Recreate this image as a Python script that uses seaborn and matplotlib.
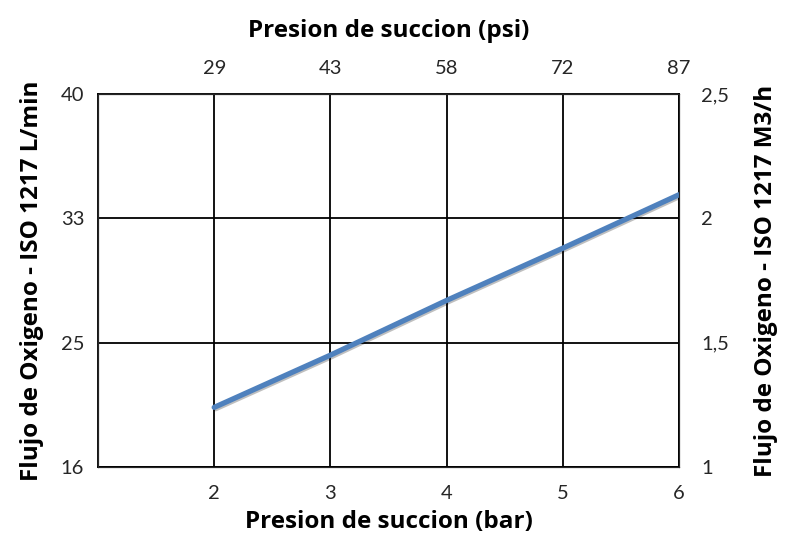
import matplotlib
matplotlib.use("Agg")
import matplotlib.pyplot as plt
import matplotlib.patheffects as pe
import seaborn as sns
import pandas as pd

# Datos
presionBar = [2, 3, 4, 5, 6]
flujoM3h = [1.24, 1.45, 1.67, 1.88, 2.095]

ticksBar = [2, 3, 4, 5, 6]
etiquetasPsi = ["29", "43", "58", "72", "87"]
ticksFlujo = [1, 1.5, 2, 2.5]
etiquetasLmin = ["16", "25", "33", "40"]
etiquetasM3h = ["1", "1,5", "2", "2,5"]

df = pd.DataFrame({"bar": presionBar, "m3h": flujoM3h})

sns.set_style("white")
plt.rcParams['font.family'] = ['Lato', 'DejaVu Sans']

fig = plt.figure(figsize=(7.93, 5.35), dpi=100)
ax = fig.add_axes([0.1236, 0.127, 0.7326, 0.6973])

sns.lineplot(data=df, x="bar", y="m3h", ax=ax, color="#4F81BD", linewidth=3.8,
             path_effects=[pe.SimpleLineShadow(offset=(1, -1), alpha=0.25), pe.Normal()],
             zorder=5)

ax.set_xlim(1, 6)
ax.set_ylim(1, 2.5)
ax.set_xticks(ticksBar)
ax.set_xticklabels([str(t) for t in ticksBar])
ax.set_yticks(ticksFlujo)
ax.set_yticklabels(etiquetasLmin)
ax.grid(True, color="black", linewidth=1.3)
for s in ax.spines.values():
    s.set_color("black")
    s.set_linewidth(1.3)
ax.tick_params(axis="x", length=0, pad=13, labelsize=14.5, colors="#262626")
ax.tick_params(axis="y", length=0, pad=10, labelsize=14.5, colors="#262626")

fuenteTitulo = dict(fontsize=17.5, fontweight="bold", color="black",
                    family=["Open Sans", "DejaVu Sans"])
ax.set_xlabel("Presion de succion (bar)", labelpad=6, **fuenteTitulo)
ax.set_ylabel("Flujo de Oxigeno - ISO 1217 L/min", labelpad=12, **fuenteTitulo)

# eje derecho en M3/h
axR = ax.twinx()
axR.set_ylim(ax.get_ylim())
axR.set_yticks(ticksFlujo)
axR.set_yticklabels(etiquetasM3h)
axR.tick_params(axis="y", length=0, pad=16, labelsize=14.5, colors="#262626")
axR.set_ylabel("Flujo de Oxigeno - ISO 1217 M3/h", labelpad=18, **fuenteTitulo)
axR.grid(False)

# eje superior en psi
axT = ax.twiny()
axT.set_xlim(ax.get_xlim())
axT.set_xticks(ticksBar)
axT.set_xticklabels(etiquetasPsi)
axT.tick_params(axis="x", length=0, pad=12, labelsize=14.5, colors="#262626")
axT.set_xlabel("Presion de succion (psi)", labelpad=17, **fuenteTitulo)
axT.grid(False)

fig.savefig("out.png", dpi=100)
